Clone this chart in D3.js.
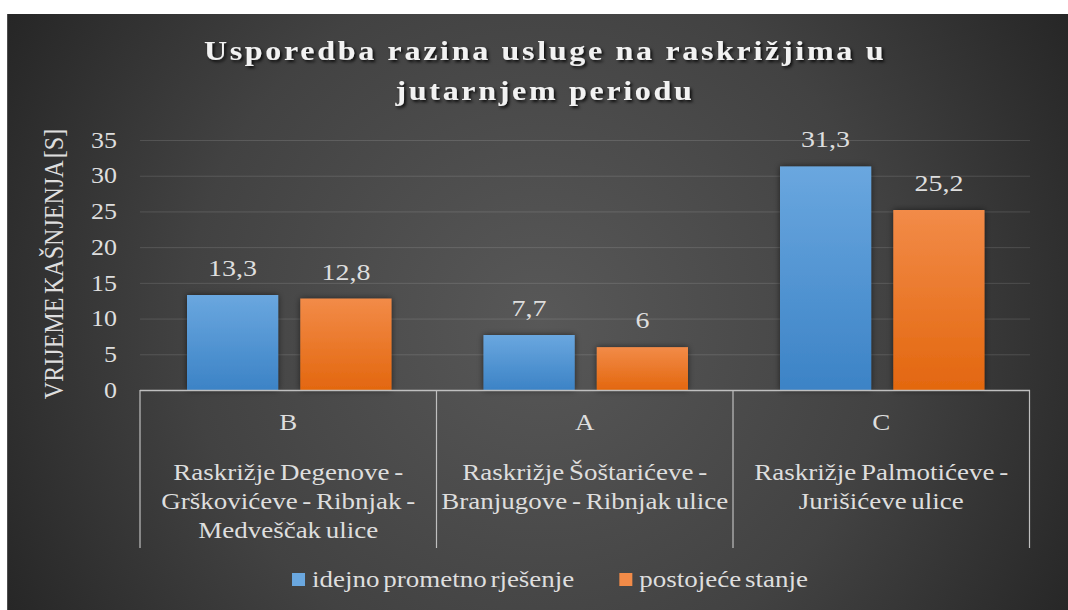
<!DOCTYPE html>
<html>
<head>
<meta charset="utf-8">
<script src="https://cdn.jsdelivr.net/npm/d3@7/dist/d3.min.js"></script>
<style>
  html, body { margin: 0; padding: 0; background: #ffffff; }
  svg { display: block; }
</style>
</head>
<body>
<svg id="chart" width="1068" height="610"></svg>
<script>
// --- data ---
const categories = ["B", "A", "C"];
const categoryNames = [
  ["Raskrižje Degenove -", "Grškovićeve - Ribnjak -", "Medveščak ulice"],
  ["Raskrižje Šoštarićeve -", "Branjugove - Ribnjak ulice"],
  ["Raskrižje Palmotićeve -", "Jurišićeve ulice"]
];
const seriesNames = ["idejno prometno rješenje", "postojeće stanje"];
const idejnoValues = [13.3, 7.7, 31.3];
const postojeceValues = [12.8, 6, 25.2];
const yTicks = [0, 5, 10, 15, 20, 25, 30, 35];
const titleLines = ["Usporedba razina usluge na raskrižjima u", "jutarnjem periodu"];
const yTitle = "VRIJEME KAŠNJENJA [S]";

const seriesValues = [idejnoValues, postojeceValues];
const squash = 0.86; // picture is a bit flattened vertically
const FONT = "'Liberation Serif', 'Times New Roman', 'DejaVu Serif', serif";
const TEXT = "#dedede";

const svg = d3.select("#chart");
const W = 1068, H = 610;
const plot = { left: 140, right: 1030, top: 140, bottom: 390 };

// --- defs: background, bar gradients, shadows ---
const defs = svg.append("defs");
const bg = defs.append("radialGradient").attr("id", "bg")
  .attr("gradientUnits", "userSpaceOnUse")
  .attr("cx", 540).attr("cy", 320).attr("r", 640);
bg.append("stop").attr("offset", "0").attr("stop-color", "#585858");
bg.append("stop").attr("offset", "0.55").attr("stop-color", "#424242");
bg.append("stop").attr("offset", "1").attr("stop-color", "#232323");

const barColors = [["#6aa7df", "#3c83c6"], ["#f28b48", "#e3670f"]];
barColors.forEach((c, i) => {
  const lg = defs.append("linearGradient").attr("id", "bar" + i)
    .attr("x1", 0).attr("y1", 0).attr("x2", 0).attr("y2", 1);
  lg.append("stop").attr("offset", "0").attr("stop-color", c[0]);
  lg.append("stop").attr("offset", "1").attr("stop-color", c[1]);
});
defs.append("filter").attr("id", "shadow")
  .attr("x", "-20%").attr("y", "-20%").attr("width", "140%").attr("height", "140%")
  .append("feDropShadow").attr("dx", 0).attr("dy", 0).attr("stdDeviation", 3)
  .attr("flood-color", "#000").attr("flood-opacity", 0.55);
defs.append("filter").attr("id", "tshadow")
  .append("feDropShadow").attr("dx", 2).attr("dy", 2).attr("stdDeviation", 1.5)
  .attr("flood-color", "#000").attr("flood-opacity", 0.8);

svg.append("rect").attr("x", 7).attr("y", 14).attr("width", W - 7).attr("height", H - 14)
  .attr("fill", "url(#bg)");
svg.append("line").attr("x1", 7.5).attr("x2", 7.5).attr("y1", 14).attr("y2", H)
  .attr("stroke", "#4d4d4d");

// --- scales ---
const x0 = d3.scaleBand().domain(categories).range([plot.left, plot.right - 0.5]).padding(0);
const x1 = d3.scaleBand().domain(d3.range(seriesNames.length))
  .range([47, x0.bandwidth() - 45]).paddingInner(0.195);
const y = d3.scaleLinear().domain([0, 35]).range([plot.bottom, plot.top]);

// --- title ---
svg.append("g").attr("filter", "url(#tshadow)")
  .selectAll("text").data(titleLines).enter().append("text")
  .attr("transform", (d, i) => `translate(545,${60 + i * 40}) scale(1,${squash})`)
  .attr("text-anchor", "middle")
  .attr("font-family", FONT)
  .attr("font-size", 32).attr("font-weight", "bold")
  .attr("letter-spacing", 2.7)
  .attr("fill", "#f2f2f2")
  .text(d => d);

// --- y axis with grid ---
const yAxis = svg.append("g")
  .attr("transform", `translate(${plot.left},0)`)
  .call(d3.axisLeft(y).tickValues(yTicks).tickSize(-(plot.right - plot.left)).tickPadding(23));
yAxis.attr("font-family", FONT).attr("font-size", 26);
yAxis.select(".domain").remove();
yAxis.selectAll(".tick line").attr("stroke", "#ffffff").attr("stroke-opacity", 0.13);
yAxis.selectAll(".tick text")
  .attr("fill", TEXT)
  .attr("transform", `scale(1,${squash})`);

svg.append("text")
  .attr("transform", `translate(63,264) scale(1,${squash}) rotate(-90)`)
  .attr("text-anchor", "middle")
  .attr("font-family", FONT)
  .attr("font-size", 28).attr("fill", TEXT)
  .attr("word-spacing", -3)
  .text(yTitle);

// --- bars ---
const groups = svg.append("g").selectAll("g").data(categories).enter().append("g")
  .attr("transform", d => `translate(${x0(d)},0)`);

groups.selectAll("rect").data((d, ci) => seriesValues.map((s, si) => ({ si, v: s[ci] })))
  .enter().append("rect")
  .attr("x", d => x1(d.si))
  .attr("width", x1.bandwidth())
  .attr("y", d => y(d.v))
  .attr("height", d => y(0) - y(d.v))
  .attr("fill", d => `url(#bar${d.si})`)
  .attr("filter", "url(#shadow)");

groups.selectAll("text.val").data((d, ci) => seriesValues.map((s, si) => ({ si, v: s[ci] })))
  .enter().append("text").attr("class", "val")
  .attr("transform", d => `translate(${x1(d.si) + x1.bandwidth() / 2},${y(d.v) - 19}) scale(1,${squash})`)
  .attr("text-anchor", "middle")
  .attr("font-family", FONT)
  .attr("font-size", 28).attr("fill", TEXT)
  .text(d => String(d.v).replace(".", ","));

// --- category axis (multi-level) ---
const catAxis = svg.append("g").attr("font-family", FONT);
catAxis.append("line")
  .attr("x1", plot.left).attr("x2", plot.right)
  .attr("y1", y(0) + 0.5).attr("y2", y(0) + 0.5)
  .attr("stroke", "#bfbfbf").attr("stroke-width", 1.5);
const seps = categories.map(c => x0(c)).concat([x0(categories[categories.length - 1]) + x0.bandwidth()]);
catAxis.selectAll("line.sep").data(seps).enter().append("line").attr("class", "sep")
  .attr("x1", d => d).attr("x2", d => d)
  .attr("y1", y(0)).attr("y2", 548)
  .attr("stroke", "#bfbfbf").attr("stroke-width", 1.2);

catAxis.selectAll("text.cat").data(categories).enter().append("text").attr("class", "cat")
  .attr("transform", d => `translate(${x0(d) + x0.bandwidth() / 2},430) scale(1,${squash})`)
  .attr("text-anchor", "middle").attr("font-size", 27).attr("fill", TEXT)
  .text(d => d);

categories.forEach((c, ci) => {
  catAxis.selectAll(null).data(categoryNames[ci]).enter().append("text")
    .attr("transform", (d, li) => `translate(${x0(c) + x0.bandwidth() / 2},${480 + li * 29}) scale(1,${squash})`)
    .attr("text-anchor", "middle").attr("font-size", 27).attr("fill", TEXT)
    .attr("word-spacing", -2)
    .text(d => d);
});

// --- legend ---
const legend = svg.append("g").attr("font-family", FONT);
const items = legend.selectAll("g").data(seriesNames).enter().append("g");
items.append("rect").attr("width", 13).attr("height", 13)
  .attr("fill", (d, i) => barColors[i][0]);
items.append("text").attr("x", 20)
  .attr("transform", `translate(0,14) scale(1,${squash})`)
  .attr("font-size", 27).attr("fill", TEXT)
  .attr("word-spacing", -3)
  .text(d => d);
const widths = [];
items.each(function () { widths.push(20 + this.querySelector("text").getComputedTextLength()); });
const gap = 45;
const total = d3.sum(widths) + gap * (widths.length - 1);
let lx = 550 - total / 2;
items.attr("transform", (d, i) => {
  const t = `translate(${lx},573)`;
  lx += widths[i] + gap;
  return t;
});
</script>
</body>
</html>
